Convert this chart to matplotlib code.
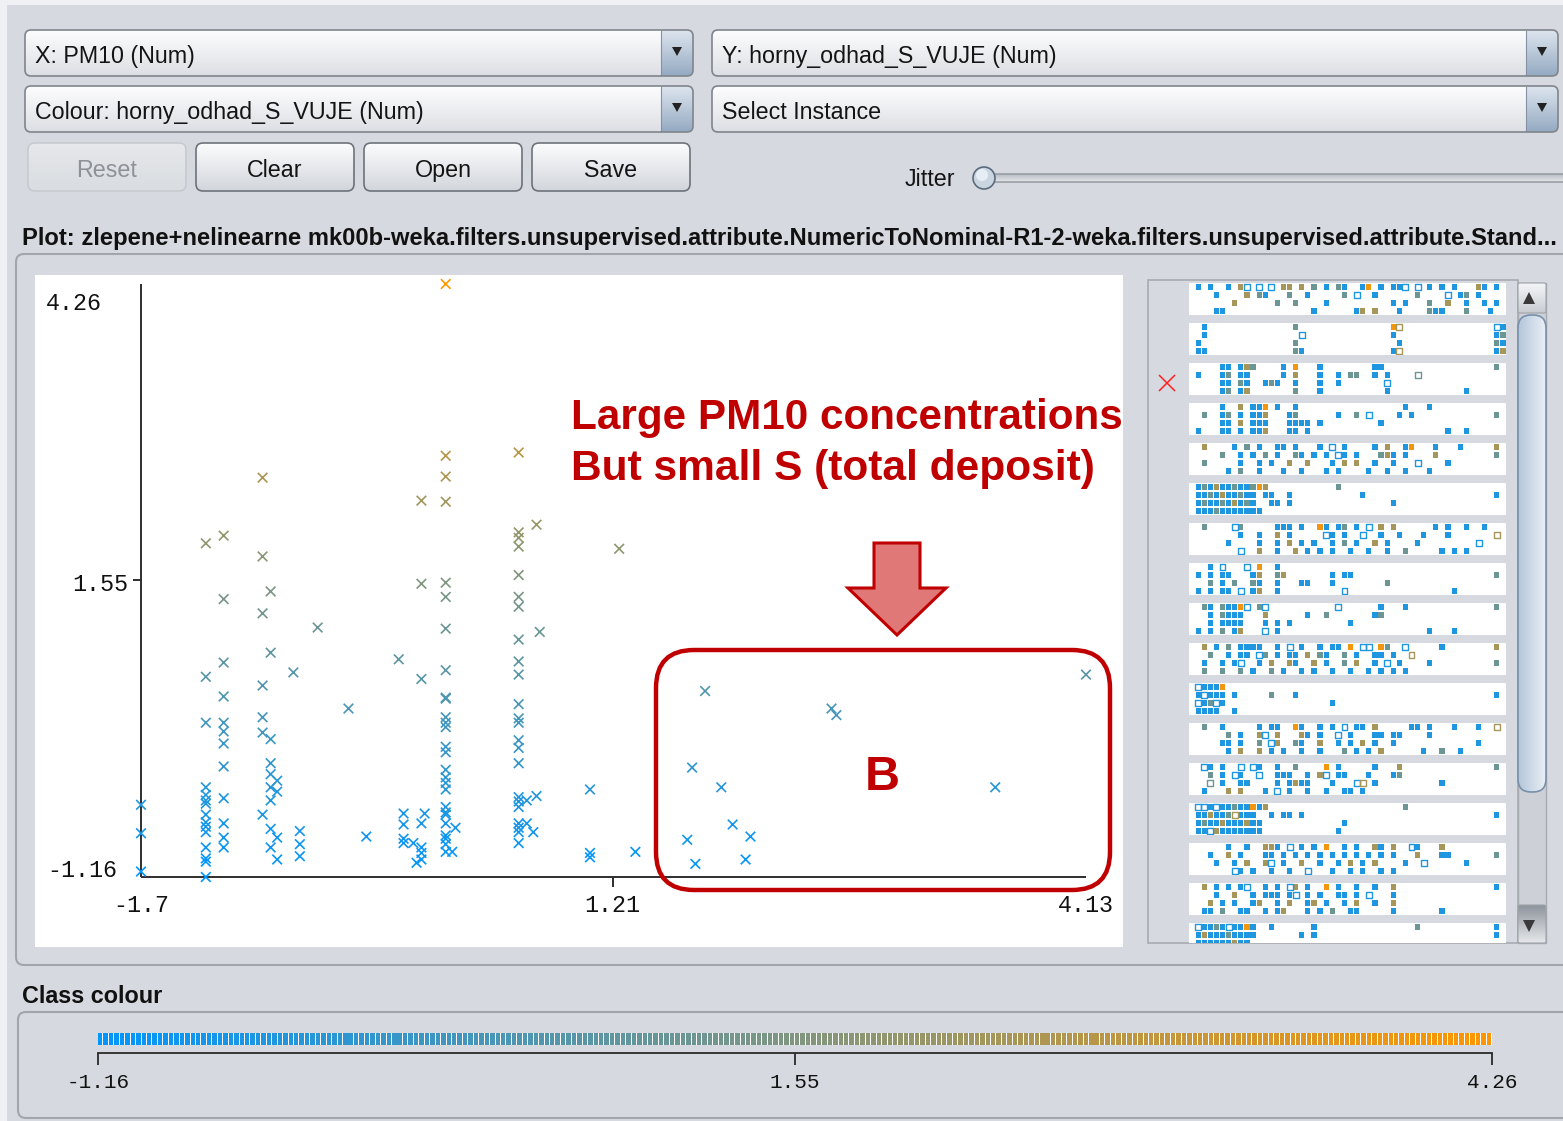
import numpy as np
import matplotlib
matplotlib.use('Agg')
import matplotlib.pyplot as plt
import matplotlib.colors as mcolors
from matplotlib.patches import FancyBboxPatch, Rectangle, Polygon, Circle

W, H = 1563, 1121
GUI = 'Liberation Sans'
MONO = 'Liberation Mono'
BG = '#D6D9DF'

# ---------------------------------------------------------------
# Scatter data: PM10 on x, horny_odhad_S_VUJE on y (colour = y).
# ---------------------------------------------------------------
pm10_levels = [-1.70, -1.30, -1.19, -0.95, -0.90, -0.86, -0.76, -0.72, -0.61, -0.42,
               -0.31, -0.11, -0.08, -0.02, 0.00, 0.03, 0.05, 0.18, 0.22, 0.24,
               0.63, 0.68, 0.72, 0.74, 0.76, 1.07, 1.25, 1.35, 1.67, 1.70,
               1.72, 1.78, 1.88, 1.95, 2.03, 2.06, 2.56, 2.59, 3.57, 4.13]
s_vuje_at_level = [
    [-0.50, -0.76, -1.11],
    [1.89, 0.67, 0.25, -0.34, -0.41, -0.46, -0.49, -0.59, -0.66, -0.70, -0.75, -0.89, -0.99, -1.02, -1.16],
    [1.96, 1.38, 0.80, 0.49, 0.25, 0.17, 0.06, -0.15, -0.44, -0.67, -0.80, -0.89],
    [2.49, 1.77, 1.25, 0.59, 0.30, 0.16, -0.59],
    [1.45, 0.89, 0.10, -0.12, -0.22, -0.34, -0.46, -0.72, -0.89],
    [-0.28, -0.38, -0.80, -1.00],
    [0.71],
    [-0.74, -0.86, -0.97],
    [1.12],
    [0.38],
    [-0.79],
    [0.83],
    [-0.58, -0.68, -0.81, -0.85],
    [-0.85],
    [-1.03],
    [2.28, 1.52, 0.65, -0.67, -0.89, -0.94, -1.00],
    [-0.58],
    [4.26, 2.69, 2.50, 2.27, 1.53, 1.40, 1.11, 0.73, 0.48, 0.47, 0.30, 0.25, 0.21, 0.03, -0.02,
     -0.18, -0.25, -0.30, -0.36, -0.52, -0.57, -0.59, -0.67, -0.78, -0.81, -0.86, -0.93],
    [-0.93],
    [-0.71],
    [2.72, 1.99, 1.94, 1.86, 1.60, 1.40, 1.31, 1.01, 0.81, 0.69, 0.42, 0.29, 0.25, 0.09, 0.02,
     -0.12, -0.43, -0.47, -0.52, -0.67, -0.71, -0.75, -0.85],
    [-0.46, -0.67],
    [-0.75],
    [2.06, -0.42],
    [1.08],
    [-0.36, -0.94, -0.98],
    [1.84],
    [-0.93],
    [-0.82], [-0.16], [-1.04], [0.54], [-0.34], [-0.68], [-1.00], [-0.79], [0.38], [0.32], [-0.34], [0.69],
]

x_range = (-1.7, 4.13)
y_range = (-1.16, 4.26)
x_tick_mid, y_tick_mid = 1.21, 1.55
x_tick_labels = ['-1.7', '1.21', '4.13']
y_tick_labels = ['-1.16', '1.55', '4.26']
class_ticks = [-1.16, 1.55, 4.26]
class_tick_labels = ['-1.16', '1.55', '4.26']

# attribute strips: 4 jitter rows per strip, tokens are <column 0-51><colour code>
# b/g/t/o = low..high class value, upper case = hollow square
strip_dots = [
    ["1b 3b 6b 8t 9B 11B 13B 15t 16t 18t 20g 22b 24g 25b 28b 29o 31b 33b 34b 35B 37B 39b 41b 43b 47t 48b 50b",
     "4b 9t 11g 12b 16g 19b 25g 27B 30b 37g 42B 44b 45g 47b",
     "7t 14g 17g 22b 33b 35b 39g 42t 45b 48b 50b",
     "4b 5b 20b 27b 28t 30t 34b 39g 40b 41b 45g 49b"],
    ["2b 17g 33o 34T 50B 51b",
     "2b 18B 33b 50b 51g",
     "1b 17g 34b 50g 51b",
     "1b 2b 17g 18b 33b 34T 50b 51t"],
    ["5b 6b 8b 9t 10g 15b 17o 21b 30b 31b 50g",
     "1b 5b 6g 8b 9b 15b 17t 21b 24b 26g 27g 30b 32b 37G",
     "5b 6b 8g 9b 12b 13g 14b 17b 21b 24b 32B",
     "5b 6g 8b 9t 17g 21b 32b 45b"],
    ["5b 8t 10b 11b 12o 14b 17b 35b 39b",
     "2g 5b 6g 8b 10b 11b 12t 16b 17g 24b 27g 29B 34b 36b 50g",
     "5b 6b 8t 10b 11b 12b 16b 17b 18b 19b 21b 31b",
     "1b 5b 6b 8b 10b 11b 12t 16b 17b 19b 42b 45b"],
    ["2t 7b 9g 11b 14b 15b 17b 21b 23B 25b 30b 32t 35b 36o 40b 44b 50t",
     "5g 8b 10b 12g 14b 17g 18b 20b 22b 24B 25b 27b 31g 32t 33b 35b 40t 50g",
     "2g 8b 11b 13b 16t 19t 23b 25t 27t 30b 33b 37B 42b",
     "6b 8g 11b 15b 18b 22b 24b 29b 32b 35b 39b"],
    ["1b 2g 3b 4t 5b 6b 7g 8b 9b 10g 11o 12t 24g",
     "1b 2b 3g 4b 5t 6b 7b 8g 9b 10b 12b 13b 16b 28b 50b",
     "1b 2g 3b 4b 5g 6b 7t 8b 9g 10b 13b 14b 16b 33b",
     "1b 2b 3b 4g 5b 6b 7b 8b 9b 10b 11b"],
    ["2g 7B 8g 14b 15b 16b 18b 21o 22b 24b 25g 27b 29B 31t 33t 40b 42b 45b 48b",
     "8b 11b 14t 16b 22B 23b 25b 28B 31b 34b 38b 42b 50T",
     "6b 11b 14b 16t 18b 20b 23b 25g 27b 30t 32b 37b 47B",
     "8B 11t 14b 17t 19b 21b 23b 26b 29b 32b 35g 41b 43b 45b"],
    ["3b 5B 9B 11o 14b",
     "1b 3b 5b 6b 10b 11t 14g 15t 23b 25b 26b 50g",
     "3g 5b 7g 10g 11b 14b 18b 19b 23b 32g",
     "1b 3b 5b 6b 8B 10b 11t 14b 25B 43b"],
    ["2g 3b 5g 6b 7b 8o 9B 11g 12B 24B 31b 35b 50g",
     "3b 5g 6b 7b 8b 12t 19b 22g 30b 31g",
     "3b 5b 6b 7b 8b 12b 14b 16b 26b",
     "1b 3b 5g 7b 8t 12B 14b 39b 43b"],
    ["2t 4b 6g 8b 9b 10b 11b 14b 16B 18b 21b 23b 24b 26o 28B 29B 31o 32g 35B 41b 50t",
     "3g 6b 8b 9b 11B 12g 14b 16b 17b 19t 21g 22b 25g 27b 30b 31b 33b 36T",
     "2b 5b 7b 8B 11b 13t 16t 17b 20t 22b 25g 27t 30b 32B 34b 39b 50g",
     "2g 5g 8g 10b 13g 15b 18b 20b 23b 26b 29b 31b 33b 35b"],
    ["1B 2b 3b 4b 5o",
     "1b 2B 3b 4b 5b 7b 13g 17b 50b",
     "1B 2b 3g 4B 5b 23b",
     "1b 2b 3b 4b 7b"],
    ["2g 5b 11b 13b 14b 17o 18b 21b 23b 25B 27b 28b 30t 36b 37b 39b 43b 47b 50T",
     "6g 8b 11t 12B 14t 18t 19b 21b 24B 26b 30b 31b 33b 34b 39b",
     "5b 6b 8b 11g 13B 14t 17g 18b 21t 24b 26b 28t 30b 33b 47b",
     "6b 8t 11t 13b 15b 18b 21b 25g 27b 29b 31t 38b 41g 44b"],
    ["2B 3b 5b 8B 10B 11b 14b 17g 22o 24b 30b 34t 50g",
     "3g 5b 7B 8b 11B 14b 15b 16b 19b 21t 22B 24b 25b 29b 33b 34g",
     "3G 5b 8b 9b 14b 16b 17t 18b 19b 23b 27B 28T 30b 41b",
     "2b 6t 8t 12b 14B 16b 19b 22b 25b 26b 28b"],
    ["1B 2B 3b 4B 5b 6b 7g 8b 9b 10o 11b 12t 35g",
     "1b 2b 3t 4b 5b 6g 7T 8b 9b 10b 13b 15b 16b 18b 50b",
     "1b 2g 3b 4b 5t 6b 7b 8b 9t 10b 11b 25b",
     "1b 2b 3B 4t 5b 6b 7b 8b 9b 10b 11b 24b"],
    ["6b 9b 12t 13t 14b 16B 18b 20b 22o 25b 27b 30t 31b 33t 36B 37b 41t",
     "3b 6t 8b 12b 13b 15b 17b 19b 21b 23b 25b 27b 29b 31b 33b 37t 41b 42b 50g",
     "4b 7b 9t 12t 13B 15b 18t 21b 24b 26t 28b 30t 35b 38B 45b",
     "7B 8b 10b 13b 16b 19B 23b 26b 28b 31b 33b"],
    ["2t 4b 6b 8b 9B 12b 14b 16B 17t 19b 22o 24b 27b 30b 33t 50b",
     "4b 7t 10b 12b 13b 14b 16b 17B 19b 21b 24b 25b 27b 29B 33b",
     "3t 5b 7b 10b 11t 14b 16t 19b 20t 22b 25b 27t 30b 33t",
     "2b 3b 5g 8b 9b 12b 14b 15t 19b 21b 23g 26b 27b 33b 41b"],
    ["1B 2b 3b 4g 5b 6B 7b 8b 9o 10b 13b 20b 37g 50b",
     "1b 2t 3b 4b 5b 6g 7b 8b 9b 10b 18b 20b 50b",
     "1b 2b 3b 4b 5b 6b 7t 8b 9b",
     "1b 2b 3b"],
]
dot_level = {'b': 0.12, 'g': 0.42, 't': 0.65, 'o': 0.95}


def weka_colour(t):
    # blue -> orange ramp used for numeric class colouring
    t = np.clip(np.asarray(t, dtype=float), 0, 1)
    return np.stack([t, np.full_like(t, 150 / 255), 1 - t], axis=-1)


fig = plt.figure(figsize=(W / 100, H / 100), dpi=100)
fig.patch.set_facecolor(BG)
renderer = fig.canvas.get_renderer()


def frac(x0, y0, x1, y1):
    return [x0 / W, 1 - y1 / H, (x1 - x0) / W, (y1 - y0) / H]


def pixel_axes(zorder=0):
    a = fig.add_axes([0, 0, 1, 1], zorder=zorder)
    a.set_xlim(0, W)
    a.set_ylim(H, 0)
    a.set_axis_off()
    return a


def rbox(ax, x0, y0, x1, y1, r, fc='none', ec='none', lw=1.0, z=2):
    p = FancyBboxPatch((x0, y0), x1 - x0, y1 - y0,
                       boxstyle=f'round,pad=0,rounding_size={r}',
                       fc=fc, ec=ec, lw=lw, zorder=z)
    ax.add_patch(p)
    return p


def shade(ax, x0, y0, x1, y1, c0, c1, clip, z, horizontal=False):
    t = np.linspace(0, 1, 64)
    rgb = np.outer(1 - t, mcolors.to_rgb(c0)) + np.outer(t, mcolors.to_rgb(c1))
    img = rgb[None, :, :] if horizontal else rgb[:, None, :]
    im = ax.imshow(img, extent=(x0, x1, y1, y0), aspect='auto',
                   interpolation='bilinear', zorder=z)
    im.set_clip_path(clip)


def fit_text(ax, x, y, s, width, **kw):
    t = ax.text(x, y, s, fontsize=20, **kw)
    t.set_fontsize(20 * width / t.get_window_extent(renderer).width)
    return t


bg = pixel_axes()

# screen edge
bg.add_patch(Rectangle((0, 0), W, 5, fc='#EEF0F3', ec='none', zorder=1))
bg.add_patch(Rectangle((0, 0), 7, H, fc='#EEF0F3', ec='none', zorder=1))

probe = fit_text(bg, 0, 0, 'Colour: horny_odhad_S_VUJE (Num)', 388, family=GUI)
gui_size = probe.get_fontsize()
probe.remove()


def combo(x0, y0, x1, y1, label):
    outline = rbox(bg, x0, y0, x1, y1, 6, ec='#80858D', lw=1.2, z=3)
    shade(bg, x0, y0, x1, y1, '#FDFDFE', '#DCDFE4', outline, 2)
    shade(bg, x1 - 32, y0, x1, y1, '#DDE5EE', '#94AAC2', outline, 2.5)
    bg.plot([x1 - 32, x1 - 32], [y0 + 1, y1 - 1], color='#8592A3', lw=0.8, zorder=2.6)
    cx, cy = x1 - 16, (y0 + y1) / 2 - 1
    bg.add_patch(Polygon([(cx - 5, cy - 5), (cx + 5, cy - 5), (cx, cy + 4)],
                         closed=True, fc='#222222', ec='none', zorder=3))
    bg.text(x0 + 10, y1 - 13, label, fontsize=gui_size, family=GUI,
            va='baseline', color='#141414', zorder=4)


def button(x0, x1, label, enabled=True):
    y0, y1 = 143, 191
    if enabled:
        outline = rbox(bg, x0, y0, x1, y1, 7, ec='#6E737B', lw=1.2, z=3)
        shade(bg, x0, y0, x1, y1, '#FCFCFD', '#D2D6DC', outline, 2)
        colour = '#141414'
    else:
        outline = rbox(bg, x0, y0, x1, y1, 7, ec='#C4C7CC', lw=1.0, z=3)
        shade(bg, x0, y0, x1, y1, '#E6E8EB', '#D9DCE0', outline, 2)
        colour = '#8E9197'
    bg.text((x0 + x1) / 2, y1 - 14, label, fontsize=gui_size, family=GUI,
            ha='center', va='baseline', color=colour, zorder=4)


combo(25, 30, 693, 76, 'X: PM10 (Num)')
combo(712, 30, 1558, 76, 'Y: horny_odhad_S_VUJE (Num)')
combo(25, 86, 693, 132, 'Colour: horny_odhad_S_VUJE (Num)')
combo(712, 86, 1558, 132, 'Select Instance')

button(28, 186, 'Reset', enabled=False)
button(196, 354, 'Clear')
button(364, 522, 'Open')
button(532, 690, 'Save')

# jitter slider
bg.text(955, 186, 'Jitter', fontsize=gui_size, family=GUI, ha='right',
        va='baseline', color='#141414', zorder=4)
track = rbox(bg, 984, 174, 1580, 182, 3, ec='#8E949C', lw=1.0, z=3)
shade(bg, 984, 174, 1580, 182, '#B9BEC5', '#E4E6EA', track, 2)
bg.add_patch(Circle((984, 178), 11, fc='#C9D5E1', ec='#5C6B7C', lw=1.2, zorder=5))
bg.add_patch(Circle((982, 175), 6, fc='#E6EDF4', ec='none', zorder=5.1))

fit_text(bg, 22, 245, 'Plot: zlepene+nelinearne mk00b-weka.filters.unsupervised.attribute.'
         'NumericToNominal-R1-2-weka.filters.unsupervised.attribute.Stand...',
         1538, family=GUI, weight='bold', va='baseline', color='#111111')

# plot panel and attribute strip panel
rbox(bg, 16, 254, 1590, 965, 8, fc=BG, ec='#A2A6AC', lw=1.5, z=1)
bg.add_patch(Rectangle((1148, 280), 370, 663, fc=BG, ec='#A8ACB2', lw=1.2, zorder=1.5))

# scrollbar
bg.add_patch(Rectangle((1518, 283), 28, 660, fc='#CDD1D7', ec='#A8ACB2', lw=1.0, zorder=1.6))
up = rbox(bg, 1518, 283, 1546, 313, 2, ec='#A0A4AA', lw=0.8, z=2.2)
shade(bg, 1518, 283, 1546, 313, '#F5F6F8', '#C8CCD2', up, 2.1)
bg.add_patch(Polygon([(1523, 304), (1535, 304), (1529, 292)], closed=True,
                     fc='#3A3A3A', ec='none', zorder=2.4))
thumb = rbox(bg, 1518, 315, 1546, 792, 13, ec='#7890AA', lw=1.2, z=2.2)
shade(bg, 1518, 315, 1546, 792, '#B4C6DA', '#E9EFF6', thumb, 2.1, horizontal=True)
down = rbox(bg, 1518, 905, 1546, 943, 2, ec='#A0A4AA', lw=0.8, z=2.2)
shade(bg, 1518, 905, 1546, 943, '#8E949C', '#E6E8EB', down, 2.1)
bg.add_patch(Polygon([(1523, 920), (1535, 920), (1529, 932)], closed=True,
                     fc='#3A3A3A', ec='none', zorder=2.4))

# selected-attribute cross beside the third strip
bg.plot([1167], [383], marker='x', ms=12, mew=1.1, color='#FF2020', zorder=3)

fit_text(bg, 22, 1003, 'Class colour', 140, family=GUI, weight='bold',
         va='baseline', color='#111111')
rbox(bg, 18, 1012, 1590, 1118, 8, fc=BG, ec='#A2A6AC', lw=1.5, z=1)

bg.set_xlim(0, W)
bg.set_ylim(H, 0)

# ---------------------------------------------------------------
# Scatter plot
# ---------------------------------------------------------------
pm10 = np.concatenate([[lv] * len(ys) for lv, ys in zip(pm10_levels, s_vuje_at_level)])
s_vuje = np.concatenate(s_vuje_at_level)
span = y_range[1] - y_range[0]

ax = fig.add_axes(frac(35, 275, 1123, 947))
ax.set_facecolor('white')
for sp in ax.spines.values():
    sp.set_visible(False)
ax.set_xticks([])
ax.set_yticks([])
sx = (1086 - 141) / (x_range[1] - x_range[0])   # pixels per unit
sy = (877 - 284) / span
ax.set_xlim(x_range[0] - (141 - 35) / sx, x_range[1] + (1123 - 1086) / sx)
ax.set_ylim(y_range[0] - (947 - 877) / sy, y_range[1] + (284 - 275) / sy)

ax.scatter(pm10, s_vuje, marker='x', s=48, linewidths=1.2,
           c=weka_colour((s_vuje - y_range[0]) / span), zorder=3)

axis_kw = dict(color='#2E2E2E', lw=1.4, zorder=2, solid_capstyle='butt')
ax.plot([x_range[0], x_range[0]], [y_range[0], y_range[1]], **axis_kw)
ax.plot([x_range[0], x_range[1]], [y_range[0], y_range[0]], **axis_kw)
ax.plot([x_range[0] - 8 / sx, x_range[0]], [y_tick_mid, y_tick_mid], **axis_kw)
ax.plot([x_tick_mid, x_tick_mid], [y_range[0], y_range[0] - 10 / sy], **axis_kw)

probe = fit_text(ax, 0, 0, '-1.16', 70, family=MONO)
mono_size = probe.get_fontsize()
probe.remove()
lab_kw = dict(textcoords='offset pixels', family=MONO, fontsize=mono_size,
              va='baseline', color='#111111')
ax.annotate(y_tick_labels[2], (x_range[0], y_range[1]), xytext=(-39, -26), ha='right', **lab_kw)
ax.annotate(y_tick_labels[1], (x_range[0], y_tick_mid), xytext=(-13, -11), ha='right', **lab_kw)
ax.annotate(y_tick_labels[0], (x_range[0], y_range[0]), xytext=(-24, 0), ha='right', **lab_kw)
for xv, lab in zip([x_range[0], x_tick_mid, x_range[1]], x_tick_labels):
    ax.annotate(lab, (xv, y_range[0]), xytext=(0, -35), ha='center', **lab_kw)

# ---------------------------------------------------------------
# Attribute strips (right panel)
# ---------------------------------------------------------------
for k, rows in enumerate(strip_dots):
    y0 = 283 + 40 * k
    y1 = min(y0 + 32, 943)
    sax = fig.add_axes(frac(1189, y0, 1506, y1))
    sax.set_facecolor('white')
    sax.set_xlim(0, 52)
    sax.set_ylim((y1 - y0) / 8, 0)
    sax.set_xticks([])
    sax.set_yticks([])
    for sp in sax.spines.values():
        sp.set_visible(False)
    fx, fy, fc, hx, hy, hc = [], [], [], [], [], []
    for r, row in enumerate(rows):
        for tok in row.split():
            col, code = int(tok[:-1]) + 0.5, tok[-1]
            if code.isupper():
                hx.append(col); hy.append(r + 0.5); hc.append(dot_level[code.lower()])
            else:
                fx.append(col); fy.append(r + 0.5); fc.append(dot_level[code])
    sax.scatter(fx, fy, marker='s', s=14, c=weka_colour(fc), linewidths=0)
    if hx:
        sax.scatter(hx, hy, marker='s', s=18, facecolors='none',
                    edgecolors=weka_colour(hc), linewidths=1.0)

# ---------------------------------------------------------------
# Class colour bar
# ---------------------------------------------------------------
cax = fig.add_axes(frac(40, 1025, 1560, 1100))
cax.set_axis_off()
px_per = (1492 - 98) / span
cax.set_xlim(y_range[0] - (98 - 40) / px_per, y_range[1] + (1560 - 1492) / px_per)
cax.set_ylim(1100, 1025)
edges = np.linspace(y_range[0], y_range[1], 257)
cax.add_patch(Rectangle((y_range[0], 1033), span, 12, fc='white', ec='none'))
cax.bar(edges[:-1], 12, width=np.diff(edges) * 0.82, bottom=1033, align='edge',
        color=weka_colour(np.linspace(0, 1, 256)), linewidth=0)
cax.plot([y_range[0], y_range[1]], [1053, 1053], color='#2B2B2B', lw=1.3)
cax.vlines(class_ticks, 1053, 1065, color='#2B2B2B', lw=1.3)
for v, lab in zip(class_ticks, class_tick_labels):
    cax.text(v, 1088, lab, ha='center', va='baseline', family=MONO,
             fontsize=mono_size * 0.9, color='#111111')

# ---------------------------------------------------------------
# Red annotation layer
# ---------------------------------------------------------------
top = pixel_axes(zorder=10)
RED = '#C00000'
fit_text(top, 571, 429, 'Large PM10 concentrations', 552, family=GUI,
         weight='bold', color=RED, va='baseline')
fit_text(top, 571, 480, 'But small S (total deposit)', 524, family=GUI,
         weight='bold', color=RED, va='baseline')
top.add_patch(Polygon([(874, 543), (920, 543), (920, 588), (946, 588), (897, 635),
                       (848, 588), (874, 588)], closed=True,
                      fc='#E07878', ec=RED, lw=2.2, joinstyle='miter'))
rbox(top, 656, 650, 1110, 890, 38, ec=RED, lw=3.2, z=3)
top.text(882, 790, 'B', family=GUI, weight='bold', fontsize=35, color=RED,
         ha='center', va='baseline')

fig.savefig('out.png', dpi=100, facecolor=fig.get_facecolor())
